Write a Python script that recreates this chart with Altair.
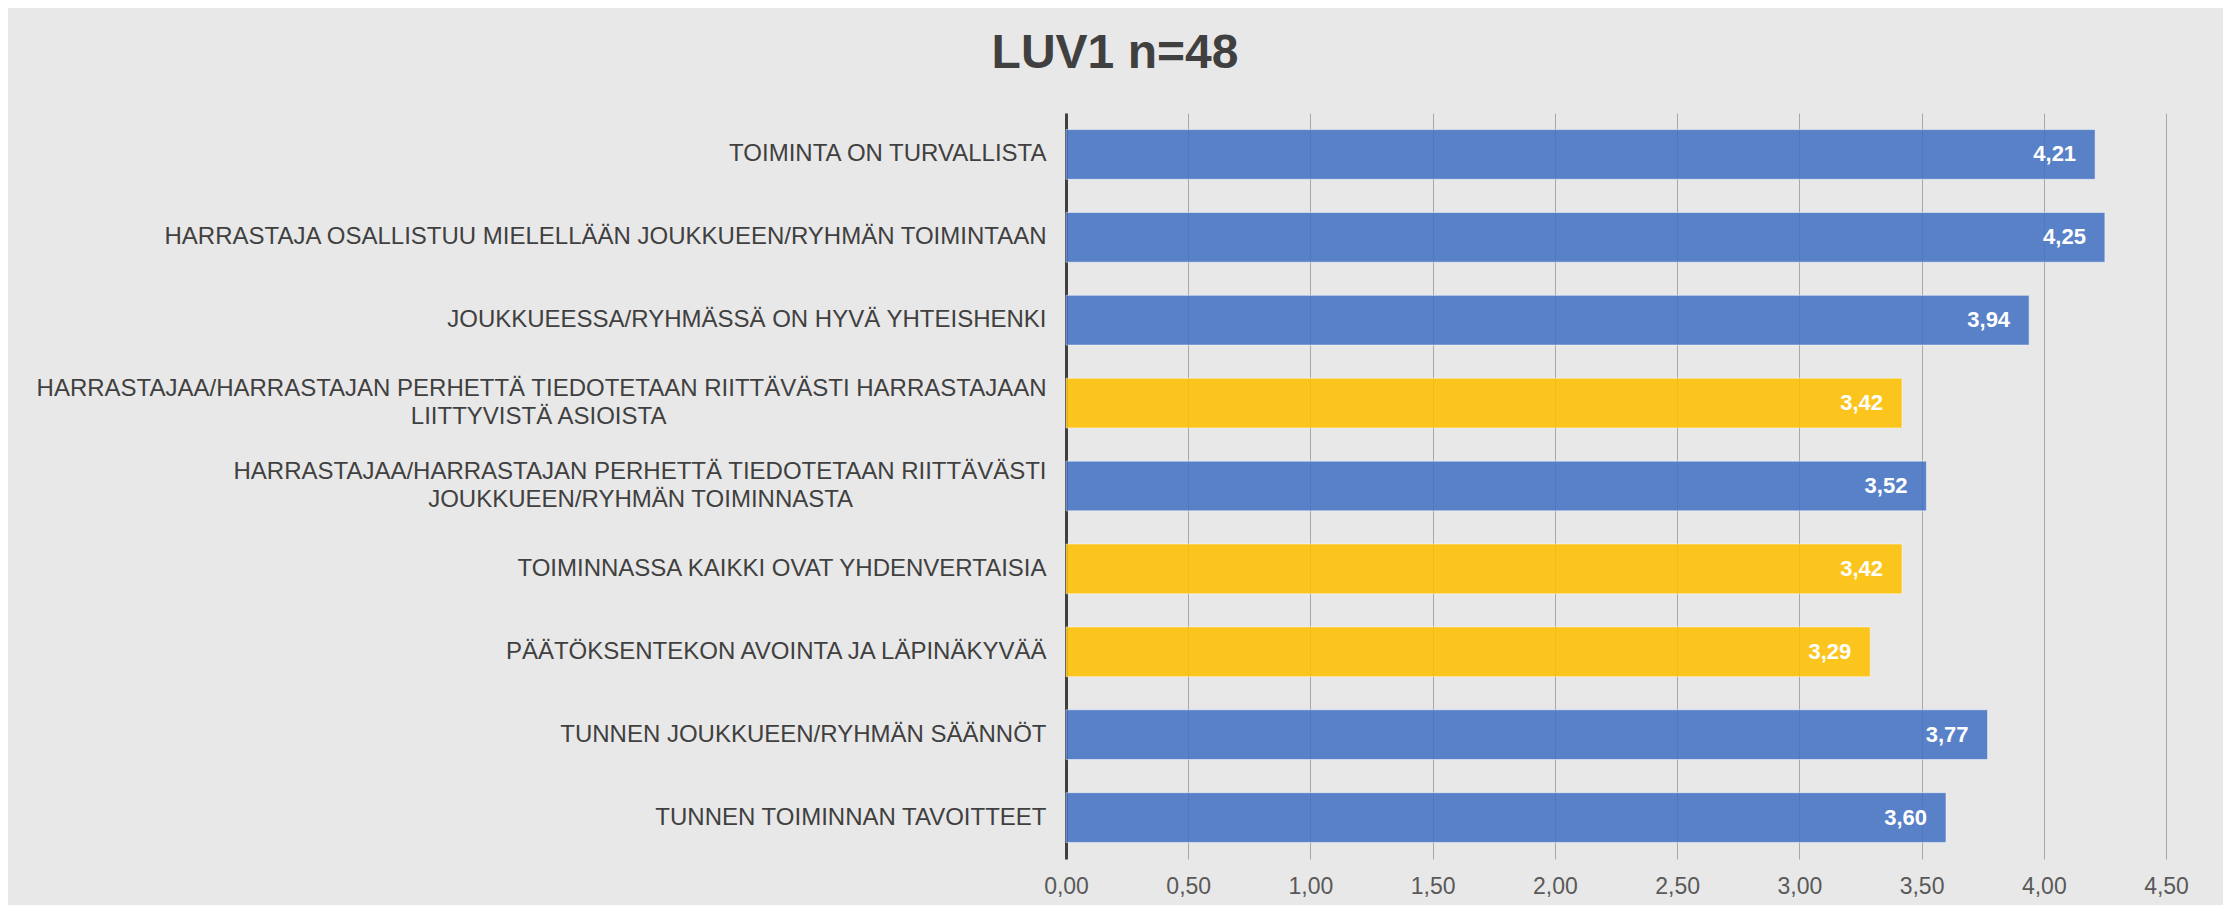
import altair as alt
import pandas as pd

title_text = "LUV1 n=48"
categories = [
    "TOIMINTA ON TURVALLISTA",
    "HARRASTAJA OSALLISTUU MIELELLÄÄN JOUKKUEEN/RYHMÄN TOIMINTAAN",
    "JOUKKUEESSA/RYHMÄSSÄ ON HYVÄ YHTEISHENKI",
    "HARRASTAJAA/HARRASTAJAN PERHETTÄ TIEDOTETAAN RIITTÄVÄSTI HARRASTAJAAN|LIITTYVISTÄ ASIOISTA",
    "HARRASTAJAA/HARRASTAJAN PERHETTÄ TIEDOTETAAN RIITTÄVÄSTI|JOUKKUEEN/RYHMÄN TOIMINNASTA",
    "TOIMINNASSA KAIKKI OVAT YHDENVERTAISIA",
    "PÄÄTÖKSENTEKON AVOINTA JA LÄPINÄKYVÄÄ",
    "TUNNEN JOUKKUEEN/RYHMÄN SÄÄNNÖT",
    "TUNNEN TOIMINNAN TAVOITTEET",
]
values = [4.21, 4.25, 3.94, 3.42, 3.52, 3.42, 3.29, 3.77, 3.60]
bar_colors = ["#4472C4", "#4472C4", "#4472C4", "#FFC000", "#4472C4",
              "#FFC000", "#FFC000", "#4472C4", "#4472C4"]
x_ticks = [0, 0.5, 1, 1.5, 2, 2.5, 3, 3.5, 4, 4.5]

df = pd.DataFrame({"cat": categories, "val": values, "col": bar_colors})

FONT = "Liberation Sans"
NBSP = "\u00a0"
ZWSP = "\u200b"

# wrapped labels: second line roughly centred under the first one
label_expr = (
    "indexof(datum.value, '|') >= 0 ? "
    "[split(datum.value, '|')[0], "
    "pad(split(datum.value, '|')[1], length(split(datum.value, '|')[1]) + "
    "max(0, round(1.33 * (length(split(datum.value, '|')[0]) - length(split(datum.value, '|')[1])) - 8)), '"
    + NBSP + "') + '" + ZWSP + "'] : datum.value"
)

y_enc = alt.Y("cat:N", sort=categories, title=None,
              scale=alt.Scale(paddingInner=0.4, paddingOuter=0.2),
              axis=alt.Axis(labelExpr=label_expr,
                            labelFontSize=24, labelFont=FONT, labelColor="#404040",
                            labelLineHeight=28, labelPadding=20, ticks=False,
                            labelOffset={"condition": {"test": "indexof(datum.value, '|') >= 0",
                                                       "value": -14},
                                         "value": 0},
                            domainColor="#404040", domainWidth=3, grid=False,
                            labelLimit=1200))

x_enc = alt.X("val:Q", title=None,
              scale=alt.Scale(domain=[0, 4.5], nice=False),
              axis=alt.Axis(values=x_ticks,
                            labelExpr="replace(format(datum.value, '.2f'), '.', ',')",
                            labelFontSize=23, labelFont=FONT, labelColor="#595959",
                            labelPadding=16, labelFlush=False, ticks=False, domain=False,
                            grid=True, gridColor="#a8a8a8", gridWidth=1))

bars = alt.Chart(df).mark_bar(opacity=0.87, stroke="#ffffff", strokeOpacity=0.5,
                              strokeWidth=1).encode(
    y=y_enc,
    x=x_enc,
    color=alt.Color("col:N", scale=None),
)

texts = alt.Chart(df).transform_calculate(
    lab="replace(format(datum.val, '.2f'), '.', ',')"
).mark_text(align="right", baseline="middle", dx=-19, color="white",
            fontWeight="bold", fontSize=22, font=FONT).encode(
    y=y_enc,
    x=x_enc,
    text="lab:N",
)

chart = alt.layer(bars, texts).properties(
    width=1100, height=746,
    title=alt.TitleParams(title_text, fontSize=48, font=FONT, fontWeight="bold",
                          color="#404040", anchor="middle", frame="group",
                          dx=-501, offset=-3, baseline="alphabetic"),
    background="#e8e8e8",
    padding={"left": 1058, "top": 105, "right": 57, "bottom": 46},
    autosize=alt.AutoSizeParams(type="none"),
).configure_view(stroke=None)

chart.save("out.html", embed_options={"renderer": "svg", "actions": False})
